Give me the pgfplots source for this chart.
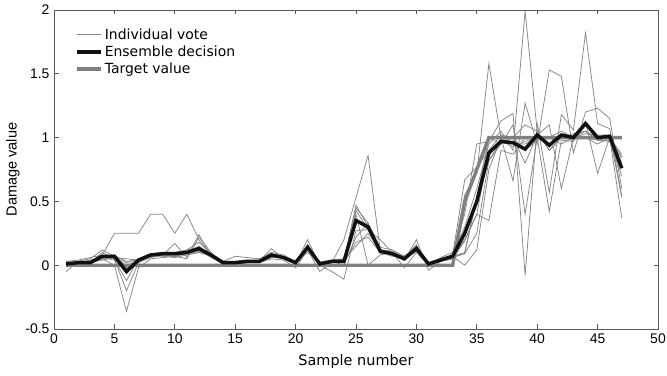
\documentclass[border=0pt]{standalone}
\usepackage{fontspec}
\setmainfont{DejaVu Sans}
\newfontfamily\arialfont{Liberation Sans}
\usepackage{pgfplots}
\usepackage{pgfplotstable}
\pgfplotsset{compat=1.18}
\usetikzlibrary{calc}
\definecolor{votegray}{HTML}{858585}
\definecolor{targetgray}{HTML}{808080}
\definecolor{axisgray}{HTML}{5A5A5A}
\definecolor{ensblack}{HTML}{111111}
\pgfplotstableread{
x v1 v2 v3 v4 v5 v6 v7 v8 v9 v10 ens tgt
1 0.03 -0.05 0.02 0.01 0.02 0.00 0.02 0.01 0.03 0.02 0.01 0
2 0.04 0.03 0.02 0.01 0.02 0.03 0.02 0.02 0.02 0.02 0.02 0
3 0.06 0.03 0.02 0.03 0.02 0.05 0.01 0.02 0.04 0.02 0.02 0
4 0.08 0.05 0.10 0.06 0.07 0.12 0.07 0.05 0.06 0.04 0.07 0
5 0.25 0.00 0.05 0.04 0.08 0.07 0.06 0.08 0.07 0.06 0.07 0
6 0.25 -0.36 -0.20 -0.12 0.02 0.00 0.05 -0.02 0.03 -0.03 -0.05 0
7 0.25 -0.02 0.02 0.05 0.05 0.04 0.04 0.05 0.04 0.04 0.04 0
8 0.40 0.05 0.06 0.09 0.07 0.07 0.07 0.07 0.07 0.08 0.08 0
9 0.40 0.06 0.08 0.10 0.07 0.08 0.09 0.08 0.08 0.09 0.09 0
10 0.25 0.07 0.17 0.08 0.06 0.07 0.08 0.07 0.08 0.10 0.09 0
11 0.40 0.05 0.06 0.12 0.08 0.09 0.09 0.10 0.08 0.12 0.10 0
12 0.20 0.22 0.24 0.18 0.10 0.12 0.11 0.15 0.10 0.14 0.13 0
13 0.08 0.10 0.07 0.09 0.08 0.06 0.07 0.08 0.07 0.08 0.08 0
14 0.03 0.01 0.02 0.00 0.02 0.01 0.02 0.02 0.02 0.02 0.02 0
15 0.07 0.00 0.01 0.03 0.02 0.02 0.03 0.02 0.02 0.02 0.02 0
16 0.06 0.02 0.03 0.02 0.03 0.03 0.04 0.03 0.02 0.03 0.03 0
17 0.05 0.02 0.03 0.04 0.02 0.03 0.03 0.03 0.03 0.04 0.03 0
18 0.10 0.05 0.13 0.07 0.06 0.09 0.08 0.07 0.06 0.08 0.08 0
19 0.08 0.04 0.05 0.07 0.06 0.05 0.06 0.06 0.06 0.06 0.06 0
20 0.03 -0.02 0.01 0.02 0.03 0.02 0.03 0.01 0.02 0.02 0.02 0
21 0.16 0.12 0.20 0.14 0.10 0.15 0.13 0.16 0.12 0.14 0.14 0
22 0.02 -0.05 0.00 0.01 0.02 0.00 0.03 0.00 0.02 0.01 0.01 0
23 0.04 0.02 -0.05 0.03 0.04 0.03 0.03 0.03 0.02 0.03 0.03 0
24 0.05 0.20 -0.11 0.02 0.05 0.00 0.04 0.03 0.03 0.03 0.03 0
25 0.45 0.53 0.27 0.18 0.40 0.22 0.15 0.47 0.43 0.35 0.35 0
26 0.33 0.86 0.28 0.22 0.00 0.33 0.25 0.30 0.28 0.28 0.30 0
27 0.14 0.12 0.20 0.10 0.08 0.09 0.12 0.12 0.10 0.11 0.11 0
28 0.12 0.08 0.10 0.07 0.10 0.10 0.11 0.10 0.08 0.08 0.09 0
29 0.07 0.04 -0.02 0.06 0.07 0.05 0.06 0.05 0.05 0.05 0.05 0
30 0.15 0.20 0.10 0.12 0.14 0.13 0.16 0.11 0.11 0.12 0.13 0
31 0.02 -0.04 0.00 0.01 0.02 0.00 0.02 0.00 0.01 0.02 0.01 0
32 0.05 0.03 0.06 0.04 0.03 0.04 0.05 0.04 0.04 0.04 0.04 0
33 0.08 0.05 0.10 0.06 0.05 0.07 0.08 0.07 0.06 0.07 0.07 0
34 0.30 0.55 0.40 0.09 0.19 0.00 0.67 0.10 0.20 0.09 0.25 0.5
35 0.60 0.72 0.95 0.25 0.40 0.12 0.77 0.53 0.40 0.53 0.50 0.75
36 0.95 1.58 0.97 0.82 0.35 0.75 0.90 1.00 0.90 0.82 0.88 1
37 1.05 1.00 1.13 0.95 0.90 1.00 1.02 0.95 0.96 0.97 0.97 1
38 0.90 0.66 1.19 1.10 0.87 1.00 1.00 1.00 0.95 0.93 0.96 1
39 1.99 1.27 -0.08 0.40 1.00 0.80 1.10 0.90 0.95 0.97 0.91 1
40 1.05 0.95 1.11 1.00 1.00 1.02 1.05 0.98 1.00 1.00 1.02 1
41 0.90 1.53 0.57 0.42 1.00 1.10 0.90 1.00 0.95 1.00 0.94 1
42 1.00 1.48 1.18 0.98 0.95 0.60 1.00 1.05 1.00 1.00 1.02 1
43 1.02 0.88 1.06 0.97 1.00 1.00 0.98 1.00 1.03 1.00 1.00 1
44 1.05 1.20 1.82 1.12 1.00 1.03 1.10 1.00 1.05 1.05 1.11 1
45 0.98 1.23 1.11 0.72 0.98 1.02 1.00 0.95 1.00 0.98 1.00 1
46 0.98 1.15 1.07 1.00 0.97 1.02 1.00 1.00 1.02 1.00 1.01 1
47 0.84 0.60 0.54 0.37 0.70 0.53 0.85 0.76 0.80 0.87 0.76 1
}\datatable
\begin{document}
\begin{tikzpicture}
\begin{axis}[
  scale only axis, width=604bp, height=319bp,
  xmin=0, xmax=50, ymin=-0.5, ymax=2,
  xtick={0,5,10,15,20,25,30,35,40,45,50},
  xticklabels={0,5,10,15,20,25,30,35,40,45,50},
  ytick={-0.5,0,0.5,1,1.5,2},
  yticklabels={-0.5,0,0.5,1,1.5,2},
  tick align=inside, major tick length=4.5bp,
  axis line style={axisgray, line width=0.8pt},
  every tick/.style={axisgray, line width=0.8pt},
  ticklabel style={font=\arialfont\fontsize{14}{14}\selectfont, black},
  xticklabel style={yshift=-1bp},
  yticklabel style={xshift=-1bp},
  xlabel={Sample number},
  ylabel={\arialfont Damage value},
  xlabel style={font=\fontsize{14.5}{14.5}\selectfont, yshift=-4bp},
  ylabel style={font=\fontsize{14.6}{14.6}\selectfont, yshift=-1bp},
  legend style={draw=none, fill=none, at={(axis description cs:0.035,0.948)}, anchor=north west,
    font=\fontsize{14}{14}\selectfont, row sep=1bp, inner sep=0pt},
  legend cell align=left,
  legend image code/.code={\draw[#1] (0bp,0bp) -- (24bp,0bp);},
  vote/.style={votegray, line width=0.75pt},
  ens/.style={ensblack, line width=3.5pt},
  tgt/.style={targetgray, line width=3.4pt},
]
\addplot[vote] table[x=x, y=v1] {\datatable};
\addlegendentry{Individual vote}
\pgfplotsinvokeforeach{v2,v3,v4,v5,v6,v7,v8,v9,v10}{
  \addplot[vote, forget plot] table[x=x, y=#1] {\datatable};
}
\addplot[tgt, forget plot] table[x=x, y=tgt] {\datatable};
\addplot[ens] table[x=x, y=ens] {\datatable};
\addlegendentry{Ensemble decision}
\addlegendimage{tgt}
\addlegendentry{Target value}
\end{axis}
\pgfresetboundingbox
\path[use as bounding box] ($(current axis.south west)+(-54bp,-47bp)$) rectangle ($(current axis.north east)+(9bp,10bp)$);
\end{tikzpicture}
\end{document}
